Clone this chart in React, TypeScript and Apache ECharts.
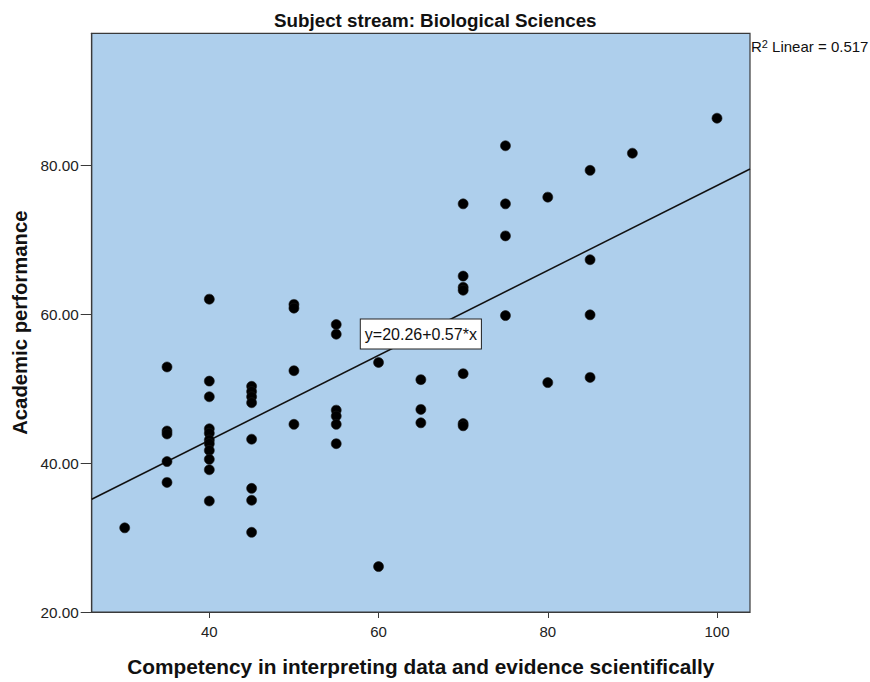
import React, { useEffect, useRef } from "react";
import * as echarts from "echarts";

const xValues: number[] = [
  30,
  35, 35, 35, 35, 35,
  40, 40, 40, 40, 40, 40, 40, 40, 40, 40, 40,
  45, 45, 45, 45, 45, 45, 45, 45,
  50, 50, 50, 50,
  55, 55, 55, 55, 55, 55,
  60, 60,
  65, 65, 65,
  70, 70, 70, 70, 70, 70, 70,
  75, 75, 75, 75,
  80, 80,
  85, 85, 85, 85,
  90,
  100,
];
const yValues: number[] = [
  31.3,
  52.9, 44.3, 43.9, 40.2, 37.4,
  62.0, 51.0, 48.9, 44.6, 44.0, 43.1, 42.6, 41.7, 40.5, 39.1, 34.9,
  50.3, 49.6, 48.9, 48.1, 43.2, 36.6, 35.0, 30.7,
  61.3, 60.8, 52.4, 45.2,
  58.6, 57.3, 47.1, 46.3, 45.2, 42.6,
  53.5, 26.1,
  51.2, 47.2, 45.4,
  74.8, 65.1, 63.6, 63.2, 52.0, 45.3, 45.0,
  82.6, 74.8, 70.5, 59.8,
  75.7, 50.8,
  79.3, 67.3, 59.9, 51.5,
  81.6,
  86.3,
];
const xTicks: number[] = [40, 60, 80, 100];
const yTicks: number[] = [20, 40, 60, 80];
const intercept = 20.26;
const slope = 0.57;
const rSquared = "0.517";
const xRange: number[] = [26.1, 103.9];
const yRange: number[] = [20, 97.7];
const labelAtX = 65;

const FONT = "'Liberation Sans', Arial, sans-serif";

export default function App() {
  const ref = useRef<HTMLDivElement>(null);
  useEffect(() => {
    if (!ref.current) return;
    const chart = echarts.init(ref.current, null, { renderer: "svg" });
    const points = xValues.map((x, i) => [x, yValues[i]]);
    const fit = (x: number) => intercept + slope * x;
    const lineData = [
      [xRange[0], fit(xRange[0])],
      [xRange[1], fit(xRange[1])],
    ];
    chart.setOption({
      animation: false,
      textStyle: { fontFamily: FONT },
      title: {
        text: "Subject stream: Biological Sciences",
        left: 269,
        top: 6,
        textStyle: { fontFamily: FONT, fontSize: 18.8, fontWeight: "bold", color: "#111" },
      },
      grid: {
        left: 91.7,
        right: 120,
        top: 33.3,
        bottom: 68,
        show: true,
        backgroundColor: "#AECFEC",
        borderColor: "#3a3a3a",
        borderWidth: 1.2,
      },
      xAxis: {
        type: "value",
        min: xRange[0],
        max: xRange[1],
        name: "Competency in interpreting data and evidence scientifically",
        nameLocation: "middle",
        nameGap: 44,
        nameTextStyle: { fontFamily: FONT, fontSize: 20.8, fontWeight: "bold", color: "#111" },
        axisLine: { show: true, onZero: false, lineStyle: { color: "#3a3a3a", width: 1.2 } },
        axisTick: { show: true, customValues: xTicks, length: 6, lineStyle: { color: "#3a3a3a" } },
        axisLabel: {
          customValues: xTicks,
          margin: 12,
          fontSize: 15,
          color: "#222",
          fontFamily: FONT,
        },
        splitLine: { show: false },
      },
      yAxis: {
        type: "value",
        min: yRange[0],
        max: yRange[1],
        name: "Academic performance",
        nameLocation: "middle",
        nameGap: 62,
        nameTextStyle: { fontFamily: FONT, fontSize: 20.3, fontWeight: "bold", color: "#111" },
        axisLine: { show: true, onZero: false, lineStyle: { color: "#3a3a3a", width: 1.2 } },
        axisTick: { show: true, customValues: yTicks, length: 11, lineStyle: { color: "#3a3a3a" } },
        axisLabel: {
          customValues: yTicks,
          margin: 13,
          fontSize: 15.3,
          color: "#222",
          fontFamily: FONT,
          formatter: (v: number) => v.toFixed(2),
        },
        splitLine: { show: false },
      },
      series: [
        {
          type: "line",
          data: lineData,
          showSymbol: false,
          symbol: "none",
          lineStyle: { color: "#111", width: 1.5 },
          silent: true,
          z: 3,
          markPoint: {
            symbol: "rect",
            symbolSize: 1,
            itemStyle: { color: "rgba(0,0,0,0)" },
            data: [{ coord: [labelAtX, fit(labelAtX)] }],
            label: {
              show: true,
              position: "inside",
              formatter: `y=${intercept.toFixed(2)}+${slope.toFixed(2)}*x`,
              fontFamily: FONT,
              fontSize: 16,
              color: "#111",
              backgroundColor: "#fff",
              borderColor: "#222",
              borderWidth: 1,
              padding: [7, 4, 6, 4],
            },
          },
        },
        {
          type: "scatter",
          data: points,
          symbolSize: 10,
          itemStyle: { color: "#000", opacity: 1, borderColor: "#1a1a1a", borderWidth: 0.6 },
          z: 4,
        },
      ],
      graphic: [
        {
          type: "text",
          left: 751,
          top: 38,
          style: {
            text: `R{sup|2} Linear = ${rSquared}`,
            fontFamily: FONT,
            fontSize: 15,
            fill: "#111",
            rich: {
              sup: { fontSize: 11, fontFamily: FONT, padding: [0, 0, 6, 0], fill: "#111" },
            },
          },
        },
      ],
    });
    return () => chart.dispose();
  }, []);
  return (
    <div
      ref={ref}
      style={{ position: "fixed", left: 0, top: 0, width: 870, height: 682, background: "#fff" }}
    />
  );
}
